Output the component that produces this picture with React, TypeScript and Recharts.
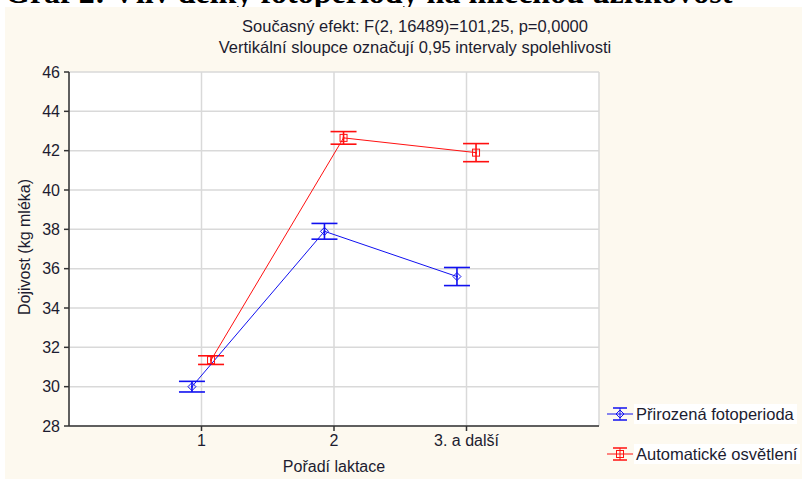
import { ComposedChart, Scatter, XAxis, YAxis, CartesianGrid, ErrorBar } from "recharts";

const categories = ["1", "2", "3. a další"];
const naturalMeans = [30.0, 37.9, 35.6];
const naturalErrors = [0.27, 0.4, 0.46];
const autoMeans = [31.35, 42.65, 41.9];
const autoErrors = [0.22, 0.32, 0.46];
const yTicks = [28, 30, 32, 34, 36, 38, 40, 42, 44, 46];

const BLUE = "#1010f0";
const RED = "#ff1010";
const TEXT = "#1c1c30";
const FONT = '"Liberation Sans", Arial, sans-serif';

// categories sit at 1..3 on a 0..4 axis, the two groups nudged apart
const naturalData = naturalMeans.map((y, i) => ({ x: i + 1 - 0.072, y, err: naturalErrors[i] }));
const autoData = autoMeans.map((y, i) => ({ x: i + 1 + 0.072, y, err: autoErrors[i] }));

const Diamond = ({ cx, cy }: any) => (
  <g>
    <path d={`M${cx} ${cy - 4}L${cx + 4} ${cy}L${cx} ${cy + 4}L${cx - 4} ${cy}Z`} fill="none" stroke={BLUE} strokeWidth={1} />
    <circle cx={cx} cy={cy} r={1} fill={BLUE} />
  </g>
);

const Square = ({ cx, cy }: any) => (
  <g>
    <rect x={cx - 3.5} y={cy - 3.5} width={7} height={7} fill="none" stroke={RED} strokeWidth={1} />
    <circle cx={cx} cy={cy} r={1} fill={RED} />
  </g>
);

const LegendIcon = ({ color, square }: { color: string; square?: boolean }) => (
  <svg width={28} height={16} style={{ display: "block" }}>
    <line x1={7} y1={2} x2={21} y2={2} stroke={color} strokeWidth={1.5} />
    <line x1={7} y1={14} x2={21} y2={14} stroke={color} strokeWidth={1.5} />
    <line x1={1} y1={8} x2={27} y2={8} stroke={color} strokeWidth={1} />
    <line x1={14} y1={2} x2={14} y2={14} stroke={color} strokeWidth={1} />
    {square ? (
      <rect x={10.5} y={4.5} width={7} height={7} fill="none" stroke={color} />
    ) : (
      <path d="M14 4L18 8L14 12L10 8Z" fill="none" stroke={color} />
    )}
  </svg>
);

const App = () => {
  return (
    <div style={{ position: "fixed", left: 0, top: 0, width: 807, height: 479, overflow: "hidden", background: "#fff", fontFamily: FONT, color: TEXT }}>
      <div style={{ position: "absolute", left: 5, top: -24, lineHeight: 1, whiteSpace: "nowrap", fontFamily: '"Liberation Serif", "Times New Roman", serif', fontWeight: "bold", fontSize: 32, color: "#000" }}>
        Graf 2: Vliv délky fotoperiody na mléčnou užitkovost
      </div>
      <div style={{ position: "absolute", left: 5, top: 7, width: 797, height: 472, background: "#fdf9ef" }} />
      <div style={{ position: "absolute", left: 0, width: 830, top: 15.5, textAlign: "center", fontSize: 16.5, lineHeight: "21px" }}>
        Současný efekt: F(2, 16489)=101,25, p=0,0000
        <br />
        Vertikální sloupce označují 0,95 intervaly spolehlivosti
      </div>

      <div style={{ position: "absolute", left: 0, top: 0 }}>
        <ComposedChart width={807} height={479} margin={{ top: 72, right: 208, bottom: 0, left: 19 }}>
          <CartesianGrid fill="#fff" stroke="#d9d9d9" strokeWidth={1.5} />
          <XAxis
            type="number"
            dataKey="x"
            domain={[0, 4]}
            ticks={[1, 2, 3]}
            tickFormatter={(v: number) => categories[v - 1]}
            height={53}
            tickSize={5}
            tickMargin={4}
            stroke="#333"
            strokeWidth={1.5}
            tick={{ fill: TEXT, fontSize: 16 }}
          />
          <XAxis xAxisId="top" orientation="top" type="number" dataKey="x" domain={[0, 4]} height={0} tick={false} tickLine={false} stroke="#333" strokeWidth={1.5} />
          <YAxis
            type="number"
            dataKey="y"
            domain={[28, 46]}
            ticks={yTicks}
            width={50}
            tickSize={5}
            tickMargin={4}
            stroke="#333"
            strokeWidth={1.5}
            tick={{ fill: TEXT, fontSize: 16 }}
          />
          <YAxis yAxisId="right" orientation="right" type="number" domain={[28, 46]} width={0} tick={false} tickLine={false} stroke="#333" strokeWidth={1.5} />
          <Scatter data={naturalData} line={{ stroke: BLUE, strokeWidth: 1 }} shape={Diamond} isAnimationActive={false}>
            <ErrorBar dataKey="err" direction="y" width={13} stroke={BLUE} strokeWidth={1.6} isAnimationActive={false} />
          </Scatter>
          <Scatter data={autoData} line={{ stroke: RED, strokeWidth: 1 }} shape={Square} isAnimationActive={false}>
            <ErrorBar dataKey="err" direction="y" width={13} stroke={RED} strokeWidth={1.6} isAnimationActive={false} />
          </Scatter>
        </ComposedChart>
      </div>

      <div style={{ position: "absolute", left: 334, top: 467, transform: "translate(-50%, -50%)", fontSize: 16, whiteSpace: "nowrap" }}>
        Pořadí laktace
      </div>
      <div style={{ position: "absolute", left: 25, top: 247, transform: "translate(-50%, -50%) rotate(-90deg)", fontSize: 16, whiteSpace: "nowrap" }}>
        Dojivost (kg mléka)
      </div>

      <div style={{ position: "absolute", left: 606, top: 404, fontSize: 16.5 }}>
        <div style={{ display: "flex", alignItems: "center", height: 20 }}>
          <LegendIcon color={BLUE} />
          <span style={{ background: "#fff", padding: "0 3px 0 2px", lineHeight: "20px" }}>Přirozená fotoperioda</span>
        </div>
        <div style={{ display: "flex", alignItems: "center", height: 20, marginTop: 20 }}>
          <LegendIcon color={RED} square />
          <span style={{ background: "#fff", padding: "0 3px 0 2px", lineHeight: "20px" }}>Automatické osvětlení</span>
        </div>
      </div>
    </div>
  );
};

export default App;
